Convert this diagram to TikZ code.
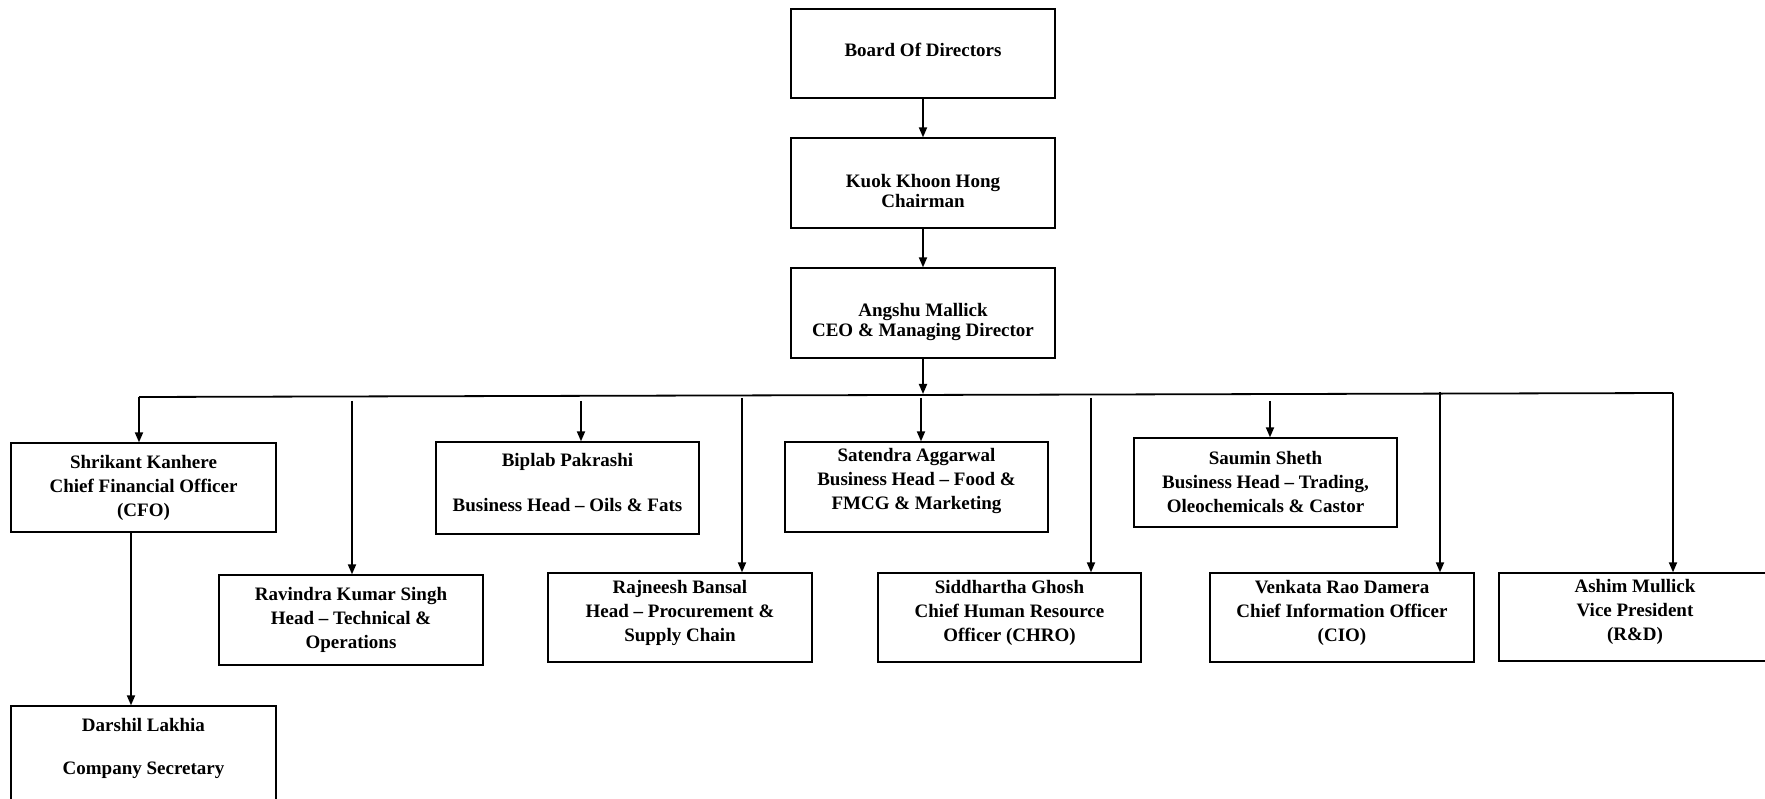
\documentclass[tikz,border=0pt]{standalone}
\usepackage{fontspec}
\setmainfont{Liberation Serif}
\usetikzlibrary{arrows.meta}
\tikzset{
  box/.style={draw=black, line width=1.3pt, inner sep=0pt, align=center,
    font=\bfseries\fontsize{19}{24}\selectfont},
  lbl/.style={inner sep=0pt, align=center, font=\bfseries\fontsize{19}{24}\selectfont},
  tightlbl/.style={inner sep=0pt, align=center, font=\bfseries\fontsize{19}{19.5}\selectfont},
  conn/.style={line width=1.8pt, -{Triangle[width=8pt,length=10pt]}},
  busline/.style={line width=1.8pt}
}
\begin{document}
\begin{tikzpicture}[x=1pt,y=-1pt]
\useasboundingbox (0,0) rectangle (1765,799);
\fill[white] (0,0) rectangle (1765,799);

% boxes
\node[box, minimum width=264pt, minimum height=89pt,
  label={[lbl,name=boardtxt,yshift=4pt]center:{Board Of Directors}}] (board) at (923,53.5) {};
\node[box, minimum width=264pt, minimum height=90pt,
  label={[tightlbl,name=chairtxt,yshift=-8pt]center:{Kuok Khoon Hong\\Chairman}}] (chair) at (923,183) {};
\node[box, minimum width=264pt, minimum height=90pt,
  label={[tightlbl,name=ceotxt,yshift=-9pt]center:{Angshu Mallick\\CEO \& Managing Director}}] (ceo) at (923,313) {};

\node[box, minimum width=265pt, minimum height=89pt] (cfo) at (143.5,487.5) {Shrikant Kanhere\\Chief Financial Officer\\(CFO)};
\node[box, minimum width=264pt, minimum height=90pt] (ravi) at (351,620) {Ravindra Kumar Singh\\Head -- Technical \&\\Operations};
\node[box, minimum width=265pt, minimum height=100pt,
  label={[lbl,name=darshiltxt,yshift=8pt]center:{Darshil Lakhia\\[19pt]Company Secretary}}] (darshil) at (143.5,756) {};

\node[box, minimum width=263pt, minimum height=92pt,
  label={[lbl,name=biplabtxt,yshift=5pt]center:{Biplab Pakrashi\\[21pt]Business Head -- Oils \& Fats}}] (biplab) at (567.5,488) {};
\node[box, minimum width=264pt, minimum height=89pt] (rajneesh) at (680,617.5) {Rajneesh Bansal\\Head -- Procurement \&\\Supply Chain\\[-10pt]};
\node[box, minimum width=263pt, minimum height=90pt] (satendra) at (916.5,487) {Satendra Aggarwal\\Business Head -- Food \&\\FMCG \& Marketing\\[-8pt]};
\node[box, minimum width=263pt, minimum height=89pt] (sidd) at (1009.5,617.5) {Siddhartha Ghosh\\Chief Human Resource\\Officer (CHRO)\\[-10pt]};
\node[box, minimum width=263pt, minimum height=89pt] (saumin) at (1265.5,482.5) {Saumin Sheth\\Business Head -- Trading,\\Oleochemicals \& Castor};
\node[box, minimum width=264pt, minimum height=89pt] (venkata) at (1342,617.5) {Venkata Rao Damera\\Chief Information Officer\\(CIO)\\[-10pt]};
\node[box, minimum width=280pt, minimum height=88pt] (ashim) at (1639,617) {};
\node[lbl] (ashimtxt) at (1635,612) {Ashim Mullick\\Vice President\\(R\&D)};

% top chain
\draw[conn] (board.south) -- (chair.north);
\draw[conn] (chair.south) -- (ceo.north);

% bus
\coordinate (busL) at (139,397);
\coordinate (busR) at (1673,393);
\coordinate (busC) at (923,394);
\draw[busline] (busL) -- (busR);
\draw[conn] (ceo.south) -- (busC);

% drops
\coordinate (tRavi) at (352,401);
\coordinate (tBiplab) at (581,401);
\coordinate (tRaj) at (742,398);
\coordinate (tSat) at (921,398);
\coordinate (tSidd) at (1091,398);
\coordinate (tSaumin) at (1270,401);
\coordinate (tVen) at (1440,392);

\draw[conn] (busL) -- (busL |- cfo.north);
\draw[conn] (tRavi) -- (tRavi |- ravi.north);
\draw[conn] (tBiplab) -- (tBiplab |- biplab.north);
\draw[conn] (tRaj) -- (tRaj |- rajneesh.north);
\draw[conn] (tSat) -- (tSat |- satendra.north);
\draw[conn] (tSidd) -- (tSidd |- sidd.north);
\draw[conn] (tSaumin) -- (tSaumin |- saumin.north);
\draw[conn] (tVen) -- (tVen |- venkata.north);
\draw[conn] (busR) -- (busR |- ashim.north);

% CFO to secretary
\coordinate (cfoB) at (131,532);
\draw[conn] (cfoB) -- (cfoB |- darshil.north);
\end{tikzpicture}
\end{document}
